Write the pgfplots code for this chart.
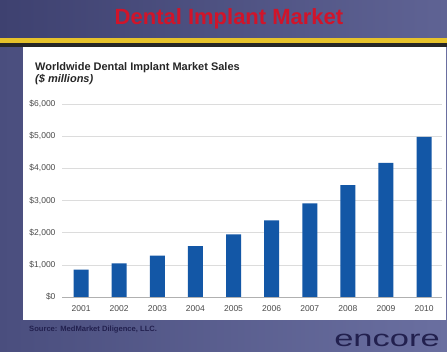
\documentclass[border=0pt]{standalone}
\usepackage{pgfplots}
\pgfplotsset{compat=1.18}
\usepackage{fontspec}
\setmainfont{Liberation Sans}
\definecolor{slide}{HTML}{565B8E}
\definecolor{slideL}{HTML}{4A4E7E}
\definecolor{slideR}{HTML}{6A6FA0}
\definecolor{bandL}{HTML}{3E4170}
\definecolor{bandR}{HTML}{5F6394}
\definecolor{goldline}{HTML}{E6C22A}
\definecolor{titlered}{HTML}{D0142A}
\definecolor{barblue}{HTML}{1357A6}
\definecolor{ticktext}{HTML}{4A4A4A}
\definecolor{gridc}{HTML}{DCDCDC}
\definecolor{navy}{HTML}{22204E}
\begin{document}
\begin{tikzpicture}[x=1pt,y=1pt]
\useasboundingbox (0,0) rectangle (447,351);
% slide background
\shade[left color=slideL, right color=slideR] (0,0) rectangle (447,351);
% title band
\shade[left color=bandL, right color=bandR] (0,313) rectangle (447,351);
\fill[goldline] (0,308) rectangle (447,313);
\fill[black!85] (0,304) rectangle (447,308);
% white panel
\fill[white] (23,31) rectangle (446,304);
% title
\node[font=\fontsize{22}{25}\selectfont\bfseries, text=titlered] at (229,332) {Dental Implant Market};
% chart title
\node[anchor=base west, inner sep=0pt, font=\fontsize{11}{13}\selectfont\bfseries, text=black!85] at (35,280.3) {Worldwide Dental Implant Market Sales};
\node[anchor=base west, inner sep=0pt, font=\fontsize{11}{13}\selectfont\bfseries\itshape, text=black!85] at (35,268) {(\$ millions)};
% source
\node[anchor=base west, inner sep=0pt, font=\fontsize{7.6}{9}\selectfont\bfseries, text=navy] at (29,19.5) {Source: MedMarket Diligence, LLC.};
% logo
\node[anchor=base west, inner sep=0pt, font=\fontsize{23}{26}\selectfont, text=navy, xscale=1.5] at (334,5) {encore};
\begin{axis}[
  at={(62pt,54pt)}, anchor=south west,
  scale only axis, width=380pt, height=193pt,
  xmin=-0.5, xmax=9.47, ymin=0, ymax=6000,
  ybar, bar width=15pt,
  xtick=data,
  xticklabels={2001,2002,2003,2004,2005,2006,2007,2008,2009,2010},
  ytick={0,1000,2000,3000,4000,5000,6000},
  yticklabel={\$\pgfmathprintnumber{\tick}},
  /pgf/number format/assume math mode=true,
  /pgf/number format/1000 sep={,},
  ymajorgrids, grid style={gridc, line width=0.6pt},
  axis line style={draw=none},
  tick style={draw=none},
  ticklabel style={font=\fontsize{8.5}{10}\selectfont, text=ticktext},
  yticklabel style={xshift=-3pt},
  xticklabel style={yshift=-1pt},
  axis background/.style={fill=white},
]
\addplot[fill=barblue, draw=none] coordinates {
 (0,850) (1,1045) (2,1283) (3,1584) (4,1946) (5,2380) (6,2910) (7,3480) (8,4170) (9,4980)
};
\draw[gridc!80!black, line width=0.6pt] (axis cs:-0.5,0) -- (axis cs:9.47,0);
\end{axis}
\end{tikzpicture}
\end{document}
